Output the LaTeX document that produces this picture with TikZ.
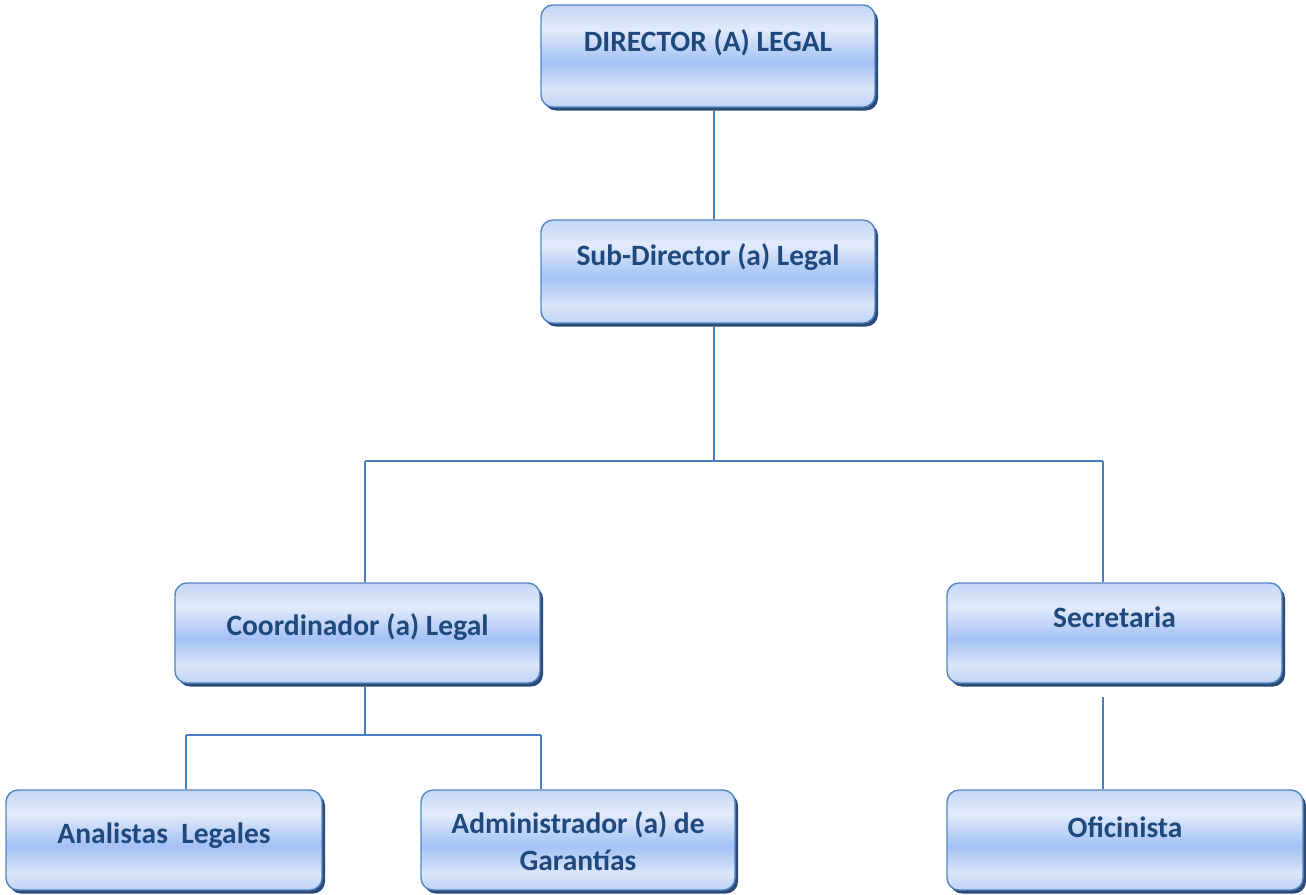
\documentclass[tikz,border=0pt]{standalone}
\usepackage{fontspec}
\setmainfont{Carlito}
\usetikzlibrary{shadows}
\definecolor{txt}{HTML}{1F497D}
\definecolor{bord}{HTML}{5384C4}
\definecolor{shad}{HTML}{2B4A76}
\definecolor{ln}{HTML}{4A7EBF}
\definecolor{sA}{HTML}{C3D7F6}
\definecolor{sB}{HTML}{E2EBFB}
\definecolor{sC}{HTML}{A3C1F4}
\definecolor{sD}{HTML}{D9E5FA}
\definecolor{sE}{HTML}{C0D5F5}
\pgfdeclareverticalshading{boxshade}{100bp}{color(0bp)=(sE); color(25bp)=(sE); color(34bp)=(sD); color(47bp)=(sC); color(63bp)=(sB); color(75bp)=(sA); color(100bp)=(sA)}
\tikzset{
  orgbox/.style={draw=bord, line width=1.4pt, rounded corners=12pt, shading=boxshade,
    inner sep=0pt, general shadow={fill=shad, shadow xshift=3pt, shadow yshift=-3.5pt}},
  lbl/.style={text=txt, font=\fontsize{29.5}{37}\selectfont\bfseries, inner sep=0pt, anchor=base},
  conn/.style={draw=ln, line width=1.3pt}
}
\newcommand{\mybox}[5]{%
  \node[orgbox, minimum width={(#4-#2)*1pt}, minimum height={(#5-#3)*1pt}] (#1) at ({(#2+#4)/2},{(#3+#5)/2}) {};}
\begin{document}
\begin{tikzpicture}[x=1pt,y=-1pt]
\useasboundingbox (0,0) rectangle (1306,894);
% boxes
\mybox{dir}{541}{5}{875}{107}
\mybox{sub}{541}{220}{875}{323}
\mybox{coo}{175}{583}{540}{683}
\mybox{sec}{947}{583}{1282}{683}
\mybox{ana}{6}{790}{322}{890}
\mybox{adm}{421}{790}{735}{890}
\mybox{ofi}{947}{790}{1303}{890}
% texts
\node[lbl] (tdir) at (708,51) {DIRECTOR (A) LEGAL};
\node[lbl] (tsub) at (708,265) {Sub-Director (a) Legal};
\node[lbl] (tcoo) at (357.5,635) {Coordinador (a) Legal};
\node[lbl] (tsec) at (1114.5,627) {Secretaria};
\node[lbl] (tana) at (164,843) {Analistas\ \ Legales};
\node[lbl] (tadm1) at (578,833) {Administrador (a) de};
\node[lbl] (tadm2) at (578,870) {Garantías};
\node[lbl] (tofi) at (1125,837) {Oficinista};
% junctions
\coordinate (j1) at (714,461);
\coordinate (jl) at (365,461);
\coordinate (jr) at (1103,461);
\coordinate (jc) at (365,735);
\coordinate (ja) at (186,735);
\coordinate (jb) at (541,735);
\coordinate (js) at (1103,697);
% connectors
\draw[conn] ([yshift=-3pt]j1 |- dir.south) -- (j1 |- sub.north);
\draw[conn] ([yshift=-3pt]j1 |- sub.south) -- (j1);
\draw[conn] (jl) -- (jr);
\draw[conn] (jl) -- (jl |- coo.north);
\draw[conn] (jr) -- (jr |- sec.north);
\draw[conn] ([yshift=-3pt]jc |- coo.south) -- (jc);
\draw[conn] (ja) -- (jb);
\draw[conn] (ja) -- (ja |- ana.north);
\draw[conn] (jb) -- (jb |- adm.north);
\draw[conn] (js) -- (js |- ofi.north);
\end{tikzpicture}
\end{document}
